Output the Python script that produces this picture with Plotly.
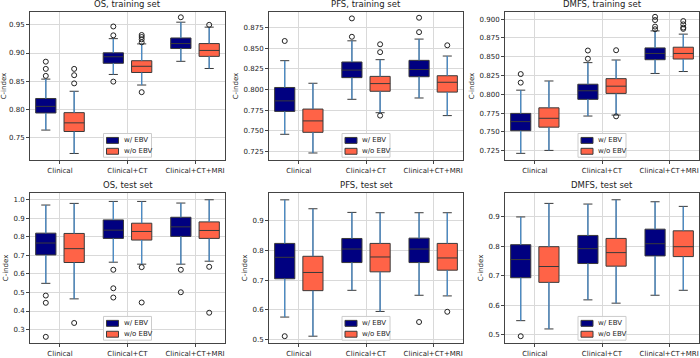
import plotly.graph_objects as go

CATEGORIES = ["Clinical", "Clinical+CT", "Clinical+CT+MRI"]
PANEL_TITLES = ["OS, training set", "PFS, training set", "DMFS, training set",
                "OS, test set", "PFS, test set", "DMFS, test set"]
SERIES = ["w/ EBV", "w/o EBV"]

# ---- w/ EBV : per panel (6) x per category (3) ----
EBV_LOW = [[0.7634, 0.8620, 0.8853], [0.7460, 0.7883, 0.7899], [0.7215, 0.7711, 0.8277],
           [0.5493, 0.6633, 0.6527], [0.5762, 0.6657, 0.6492], [0.5471, 0.6176, 0.6333]]
EBV_Q1 = [[0.7937, 0.8818, 0.9080], [0.7737, 0.8145, 0.8156], [0.7516, 0.7933, 0.8460],
          [0.7025, 0.7916, 0.8023], [0.7044, 0.7586, 0.7586], [0.6927, 0.7409, 0.7667]]
EBV_MED = [[0.8054, 0.8934, 0.9168], [0.7864, 0.8236, 0.8243], [0.7637, 0.8047, 0.8543],
           [0.7667, 0.8361, 0.8539], [0.7762, 0.8039, 0.8039], [0.7543, 0.7913, 0.8081]]
EBV_Q3 = [[0.8194, 0.9004, 0.9267], [0.8026, 0.8334, 0.8354], [0.7746, 0.8134, 0.8617],
          [0.8200, 0.8913, 0.9056], [0.8227, 0.8392, 0.8403], [0.8048, 0.8361, 0.8574]]
EBV_HIGH = [[0.8538, 0.9255, 0.9547], [0.8350, 0.8590, 0.8611], [0.8055, 0.8421, 0.8843],
            [0.9715, 0.9911, 0.9822], [0.9685, 0.9265, 0.9254], [0.8989, 0.9426, 0.9504]]
EBV_OUTLIERS = [
    [[0.8847, 0.8719, 0.8595], [0.9471, 0.9314, 0.8493], [0.9634]],
    [[0.8588], [0.8861, 0.8639], [0.8869, 0.8695]],
    [[0.8269, 0.8155], [0.8582, 0.8473], [0.9030, 0.8987, 0.8900, 0.8865]],
    [[0.4834, 0.4442, 0.2608], [0.6224, 0.5226, 0.4727], [0.6224, 0.5013]],
    [[0.5122], [], [0.5597]],
    [[0.4944], [], []],
]

# ---- w/o EBV ----
NOEBV_LOW = [[0.7219, 0.8433, 0.8726], [0.7234, 0.7721, 0.7686], [0.7254, 0.7724, 0.8303],
             [0.4656, 0.6527, 0.6687], [0.5122, 0.5950, 0.6470], [0.5190, 0.6064, 0.6501]]
NOEBV_Q1 = [[0.7609, 0.8655, 0.8941], [0.7484, 0.7980, 0.7970], [0.7563, 0.8012, 0.8469],
            [0.6616, 0.7827, 0.7916], [0.6646, 0.7276, 0.7331], [0.6770, 0.7319, 0.7644]]
NOEBV_MED = [[0.7762, 0.8765, 0.9046], [0.7622, 0.8073, 0.8089], [0.7681, 0.8108, 0.8543],
             [0.7364, 0.8290, 0.8343], [0.7254, 0.7773, 0.7740], [0.7308, 0.7779, 0.7980]]
NOEBV_Q3 = [[0.7943, 0.8864, 0.9168], [0.7765, 0.8160, 0.8168], [0.7820, 0.8208, 0.8626],
            [0.8183, 0.8735, 0.8807], [0.7796, 0.8227, 0.8227], [0.7980, 0.8260, 0.8518]]
NOEBV_HIGH = [[0.8322, 0.9162, 0.9459], [0.8077, 0.8362, 0.8406], [0.8177, 0.8456, 0.8800],
              [0.9804, 0.9911, 1.0000], [0.9387, 0.9254, 0.9254], [0.9448, 0.9571, 0.9347]]
NOEBV_OUTLIERS = [
    [[0.8719, 0.8607, 0.8462], [0.9320, 0.9284, 0.9243, 0.9190, 0.8306], [0.9500]],
    [[], [0.8548, 0.8453, 0.7686], [0.8536]],
    [[], [0.8586, 0.7707], [0.8974, 0.8930, 0.8887, 0.8870]],
    [[0.3356], [0.6366, 0.4460], [0.6384, 0.3908]],
    [[], [], [0.5939]],
    [[], [], []],
]

# ---- axes ----
Y_RANGES = [[0.710, 0.973], [0.7147, 0.894], [0.7124, 0.9096],
            [0.2269, 1.0374], [0.489, 0.992], [0.4709, 0.9807]]
Y_TICKS = [[0.75, 0.80, 0.85, 0.90, 0.95],
           [0.725, 0.750, 0.775, 0.800, 0.825, 0.850, 0.875],
           [0.725, 0.750, 0.775, 0.800, 0.825, 0.850, 0.875, 0.900],
           [0.3, 0.4, 0.5, 0.6, 0.7, 0.8, 0.9, 1.0],
           [0.5, 0.6, 0.7, 0.8, 0.9],
           [0.5, 0.6, 0.7, 0.8, 0.9]]
Y_TICK_FMT = [".2f", ".3f", ".3f", ".1f", ".1f", ".1f"]

W, H = 700, 358
COL_PX = [(30, 225), (269, 463), (505, 699)]
ROW_PX = [(12, 162), (195, 347)]

FILL = ["#000080", "#FF6347"]
EDGE = "#3a3a3a"
WHISK = "#4a90d0"
OFFSETS = [-0.21, 0.21]
BOX_W = 0.30

fig = go.Figure()
grid = "#d9d9d9"
font = dict(family="DejaVu Sans", size=7, color="#222")

stats = [
    (EBV_LOW, EBV_Q1, EBV_MED, EBV_Q3, EBV_HIGH, EBV_OUTLIERS),
    (NOEBV_LOW, NOEBV_Q1, NOEBV_MED, NOEBV_Q3, NOEBV_HIGH, NOEBV_OUTLIERS),
]


def px_x(v):
    return v / W


def px_y(v):
    return 1 - v / H


for p in range(6):
    r, c = divmod(p, 3)
    k = p + 1
    xa = "x" if k == 1 else f"x{k}"
    ya = "y" if k == 1 else f"y{k}"
    x0, x1 = COL_PX[c]
    yt, yb = ROW_PX[r]
    dom_x = [x0 / W, x1 / W]
    dom_y = [1 - yb / H, 1 - yt / H]

    for s in range(2):
        low, q1, med, q3, high, outs = stats[s]
        pos = [i + OFFSETS[s] for i in range(len(CATEGORIES))]
        fig.add_trace(go.Box(
            x=pos, q1=q1[p], median=med[p], q3=q3[p],
            lowerfence=low[p], upperfence=high[p],
            width=BOX_W, fillcolor=FILL[s], line=dict(color=EDGE, width=1),
            whiskerwidth=0.45, boxpoints=False, name=SERIES[s],
            showlegend=False, xaxis=xa, yaxis=ya, hoverinfo="skip"))
        # blue whisker stems
        wx, wy = [], []
        for i in range(len(CATEGORIES)):
            wx += [pos[i], pos[i], None, pos[i], pos[i], None]
            wy += [q3[p][i], high[p][i], None, q1[p][i], low[p][i], None]
        fig.add_trace(go.Scatter(x=wx, y=wy, mode="lines",
                                 line=dict(color=WHISK, width=1.2),
                                 showlegend=False, xaxis=xa, yaxis=ya, hoverinfo="skip"))
        ox, oy = [], []
        for i in range(len(CATEGORIES)):
            for v in outs[p][i]:
                ox.append(pos[i])
                oy.append(v)
        if ox:
            fig.add_trace(go.Scatter(x=ox, y=oy, mode="markers",
                                     marker=dict(symbol="circle-open", size=5,
                                                 color="#222", line=dict(width=1)),
                                     showlegend=False, xaxis=xa, yaxis=ya, hoverinfo="skip"))

    axis_common = dict(showline=True, mirror=True, linecolor="#444", linewidth=1,
                       gridcolor=grid, gridwidth=1, ticks="outside", ticklen=3,
                       tickcolor="#444", tickfont=font, zeroline=False)
    fig.layout[("xaxis" if k == 1 else f"xaxis{k}")] = dict(
        domain=dom_x, anchor=ya, range=[-0.444, 2.444],
        tickvals=list(range(len(CATEGORIES))), ticktext=CATEGORIES, **axis_common)
    fig.layout[("yaxis" if k == 1 else f"yaxis{k}")] = dict(
        domain=dom_y, anchor=xa, range=Y_RANGES[p], tickvals=Y_TICKS[p],
        tickformat=Y_TICK_FMT[p], title=dict(text="C-index", font=font, standoff=4),
        **axis_common)

    # legend (matplotlib-style, lower centre of each panel)
    cx = (x0 + x1) / 2
    lw, lh = 48, 24
    lx0, ly1 = cx - lw / 2, yb - 3
    ly0 = ly1 - lh
    fig.add_shape(type="rect", xref="paper", yref="paper",
                  x0=px_x(lx0), x1=px_x(lx0 + lw), y0=px_y(ly1), y1=px_y(ly0),
                  line=dict(color="#cccccc", width=1),
                  fillcolor="rgba(255,255,255,0.85)", layer="above")
    for s in range(2):
        rc = ly0 + 7 + s * 11
        fig.add_shape(type="rect", xref="paper", yref="paper",
                      x0=px_x(lx0 + 3), x1=px_x(lx0 + 15),
                      y0=px_y(rc + 3), y1=px_y(rc - 3),
                      line=dict(color=EDGE, width=1), fillcolor=FILL[s], layer="above")
        fig.add_annotation(text=SERIES[s], xref="paper", yref="paper",
                           x=px_x(lx0 + 18), y=px_y(rc), xanchor="left", yanchor="middle",
                           showarrow=False, font=font)

    fig.add_annotation(text=PANEL_TITLES[p], xref="paper", yref="paper",
                       x=(dom_x[0] + dom_x[1]) / 2, y=dom_y[1] + 1 / H,
                       xanchor="center", yanchor="bottom", showarrow=False,
                       font=dict(family="DejaVu Sans", size=8.5, color="#222"))

fig.update_layout(width=W, height=H, margin=dict(l=0, r=0, t=0, b=0),
                  paper_bgcolor="white", plot_bgcolor="white", showlegend=False)

fig.write_html("out.html", config={"displayModeBar": False},
               post_script="document.body.style.margin='0';")
